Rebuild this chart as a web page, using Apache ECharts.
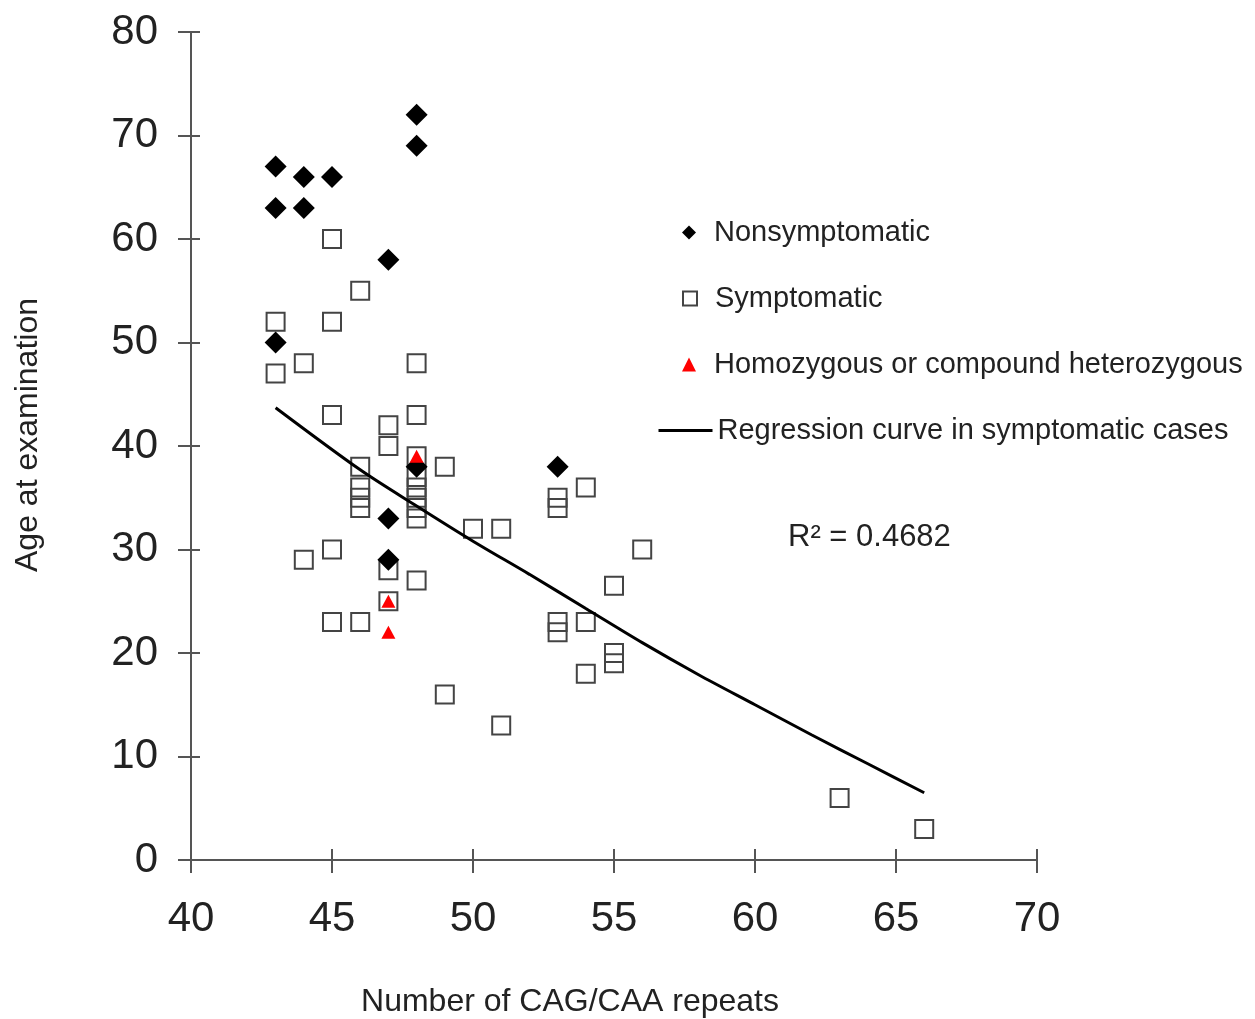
<!DOCTYPE html>
<html>
<head>
<meta charset="utf-8">
<script src="https://cdn.jsdelivr.net/npm/echarts@6/dist/echarts.min.js"></script>
<style>
html,body{margin:0;padding:0;background:#fff;}
#chart{width:1255px;height:1019px;}
</style>
</head>
<body>
<div id="chart"></div>
<script>
// ---- data ----
var xTicks = [40, 45, 50, 55, 60, 65, 70];
var yTicks = [0, 10, 20, 30, 40, 50, 60, 70, 80];

var nonsymX = [43, 43, 43, 44, 44, 45, 47, 47, 47, 48, 48, 48, 53];
var nonsymY = [67, 63, 50, 66, 63, 66, 58, 33, 29, 72, 69, 38, 38];

var symX = [43, 43, 44, 44, 45, 45, 45, 45, 45, 46, 46, 46, 46, 46, 46,
            47, 47, 47, 47, 48, 48, 48, 48, 48, 48, 48, 48, 48,
            49, 49, 50, 51, 51, 53, 53, 53, 53, 54, 54, 54, 55, 55, 55, 56, 63, 66];
var symY = [52, 47, 48, 29, 60, 52, 43, 30, 23, 55, 38, 36, 35, 34, 23,
            42, 40, 28, 25, 48, 43, 39, 37, 36, 35, 34, 33, 27,
            38, 16, 32, 32, 13, 35, 34, 23, 22, 36, 23, 18, 26.5, 20, 19, 30, 6, 3];

var homoX = [48, 47, 47];
var homoY = [39, 25, 22];

var regX = [43, 46, 48, 50, 52, 54, 56, 58, 60, 62, 64, 66];
var regY = [43.7, 37.7, 34.2, 30.8, 27.6, 24.3, 21.0, 17.9, 15.0, 12.1, 9.3, 6.5];

var seriesNames = ['Nonsymptomatic', 'Symptomatic', 'Homozygous or compound heterozygous', 'Regression curve in symptomatic cases'];
var r2Text = 'R\u00B2 = 0.4682';
var xTitle = 'Number of CAG/CAA repeats';
var yTitle = 'Age at examination';

function pairs(xs, ys) { return xs.map(function (x, i) { return [x, ys[i]]; }); }

var FONT = '"Liberation Sans", Arial, sans-serif';
var AX = '#555';

var chart = echarts.init(document.getElementById('chart'), null, {renderer: 'canvas'});

function legendAt(name, left, top, w, h, pad) {
  return {
    data: [name], left: left, top: top, orient: 'vertical',
    itemWidth: w, itemHeight: h, selectedMode: false,
    lineStyle: {width: 3, color: '#000'},
    textStyle: {fontFamily: FONT, fontSize: 29, color: '#222', padding: [0, 0, 0, pad]}
  };
}

chart.setOption({
  animation: false,
  backgroundColor: '#fff',
  grid: {left: 191, right: 218, top: 32, bottom: 159, containLabel: false, outerBoundsMode: 'none'},
  legend: [
    legendAt(seriesNames[0], 677, 213, 14, 14, 13),
    legendAt(seriesNames[1], 677, 279, 14, 14, 13),
    legendAt(seriesNames[2], 677, 345, 14, 14, 13),
    legendAt(seriesNames[3], 652, 411, 54, 3, 0)
  ],
  xAxis: [{
    type: 'value', min: xTicks[0], max: xTicks[xTicks.length - 1], interval: 5,
    name: xTitle, nameLocation: 'middle', nameGap: 126,
    nameTextStyle: {fontFamily: FONT, fontSize: 32, color: '#222', padding: [0, 88, 0, 0]},
    axisLine: {lineStyle: {color: AX, width: 2}},
    axisTick: {length: 13, lineStyle: {color: AX, width: 2}},
    axisLabel: {fontFamily: FONT, fontSize: 42, color: '#222', margin: 38},
    splitLine: {show: false}
  }, {
    type: 'value', min: xTicks[0], max: xTicks[xTicks.length - 1], interval: 5,
    position: 'bottom', offset: 0,
    axisLine: {show: false},
    axisTick: {inside: true, length: 11, lineStyle: {color: AX, width: 2}},
    axisLabel: {show: false}, splitLine: {show: false}
  }],
  yAxis: [{
    type: 'value', min: yTicks[0], max: yTicks[yTicks.length - 1], interval: 10,
    name: yTitle, nameLocation: 'middle', nameGap: 147,
    nameTextStyle: {fontFamily: FONT, fontSize: 32, color: '#222', padding: [0, 0, 0, 22]},
    axisLine: {lineStyle: {color: AX, width: 2}},
    axisTick: {length: 13, lineStyle: {color: AX, width: 2}},
    axisLabel: {fontFamily: FONT, fontSize: 42, color: '#222', margin: 33},
    splitLine: {show: false}
  }, {
    type: 'value', min: yTicks[0], max: yTicks[yTicks.length - 1], interval: 10,
    position: 'left', offset: 0,
    axisLine: {show: false},
    axisTick: {inside: true, length: 9, lineStyle: {color: AX, width: 2}},
    axisLabel: {show: false}, splitLine: {show: false}
  }],
  graphic: [{
    type: 'text', left: 788, top: 522,
    style: {text: r2Text, font: '31px ' + FONT, fill: '#222'}
  }],
  series: [{
    name: seriesNames[1], type: 'scatter', data: pairs(symX, symY),
    symbol: 'rect', symbolSize: 18, z: 2,
    itemStyle: {color: 'rgba(255,255,255,0)', borderColor: '#444', borderWidth: 2, opacity: 1}
  }, {
    name: seriesNames[0], type: 'scatter', data: pairs(nonsymX, nonsymY),
    symbol: 'diamond', symbolSize: 22, z: 3,
    itemStyle: {color: '#000', opacity: 1}
  }, {
    name: seriesNames[2], type: 'scatter', data: pairs(homoX, homoY),
    symbol: 'triangle', symbolSize: [14, 13], z: 4,
    itemStyle: {color: '#ff0000', opacity: 1}
  }, {
    name: seriesNames[3], type: 'line', data: pairs(regX, regY),
    symbol: 'none', smooth: 0.3, z: 5,
    lineStyle: {color: '#000', width: 3}, itemStyle: {color: '#000'}
  }]
});
</script>
</body>
</html>
